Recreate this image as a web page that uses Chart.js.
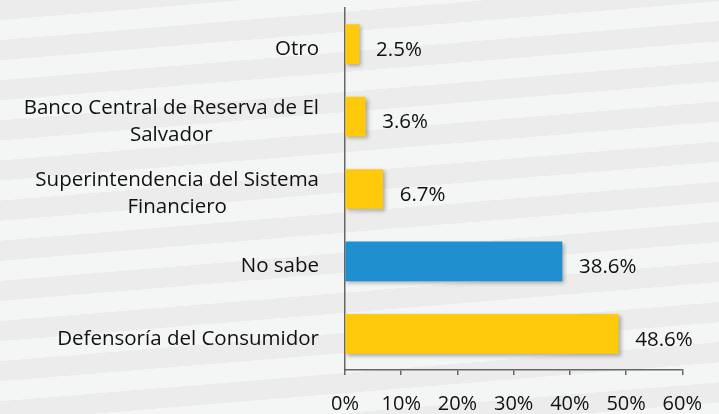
<!DOCTYPE html>
<html>
<head>
<meta charset="utf-8">
<script src="https://cdn.jsdelivr.net/npm/chart.js@4/dist/chart.umd.min.js"></script>
<style>
  html, body { margin: 0; padding: 0; }
  body {
    width: 719px; height: 414px; overflow: hidden;
    background: repeating-linear-gradient(175.3deg, #ececec 0px, #ececec 20px, #f4f5f5 20px, #f4f5f5 40px);
  }
  #wrap { position: relative; width: 719px; height: 414px; }
</style>
</head>
<body>
<div id="wrap"><canvas id="c" width="719" height="414"></canvas></div>
<script>
const categories = [
  ["Otro"],
  ["Banco Central de Reserva de El", "Salvador"],
  ["Superintendencia del Sistema", "Financiero"],
  ["No sabe"],
  ["Defensoría del Consumidor"]
];
const values = [2.5, 3.6, 6.7, 38.6, 48.6];
const barColors = ["#FFC90C", "#FFC90C", "#FFC90C", "#1F8FCF", "#FFC90C"];
const xTicks = [0, 10, 20, 30, 40, 50, 60];

const FONT = "'Open Sans', 'DejaVu Sans', sans-serif";
const FSIZE = 20.5;
const FWEIGHT = 500;
const TEXT = "#111111";

const shadowPlugin = {
  id: 'shadow',
  beforeDatasetsDraw(chart) {
    const ctx = chart.ctx;
    ctx.save();
    ctx.shadowColor = 'rgba(0,0,0,0.30)';
    ctx.shadowBlur = 4;
    ctx.shadowOffsetX = 2;
    ctx.shadowOffsetY = 2;
  },
  afterDatasetsDraw(chart) {
    chart.ctx.restore();
  }
};

const labelsPlugin = {
  id: 'textLabels',
  afterDraw(chart) {
    const ctx = chart.ctx;
    const yScale = chart.scales.y;
    const meta = chart.getDatasetMeta(0);
    ctx.save();
    ctx.font = FWEIGHT + " " + FSIZE + "px " + FONT;
    ctx.fillStyle = TEXT;
    ctx.textBaseline = 'middle';
    ctx.textAlign = 'left';
    meta.data.forEach((bar, i) => {
      ctx.fillText(values[i].toFixed(1) + '%', bar.x + 17, bar.y + 6);
    });
    const rightEdge = chart.chartArea.left - 26;
    const lineH = 27;
    categories.forEach((lines, i) => {
      const yc = yScale.getPixelForValue(i) + 5;
      const w = Math.max(...lines.map(l => ctx.measureText(l).width));
      const cx = rightEdge - w / 2;
      ctx.textAlign = 'center';
      const y0 = yc - (lines.length - 1) * lineH / 2;
      lines.forEach((l, k) => ctx.fillText(l, cx, y0 + k * lineH));
    });
    ctx.restore();
  }
};

new Chart(document.getElementById('c'), {
  type: 'bar',
  data: {
    labels: categories,
    datasets: [{
      data: values,
      backgroundColor: barColors,
      borderWidth: 0,
      barThickness: 39
    }]
  },
  options: {
    indexAxis: 'y',
    responsive: false,
    animation: false,
    events: [],
    layout: { padding: { top: 8, right: 35, left: 0, bottom: 0 } },
    plugins: { legend: { display: false }, tooltip: { enabled: false } },
    scales: {
      y: {
        ticks: { display: false },
        grid: { display: false },
        border: { display: true, color: '#666', width: 1.5 },
        afterFit(s) { s.width = 345; }
      },
      x: {
        min: 0, max: 60,
        afterBuildTicks(s) { s.ticks = xTicks.map(v => ({ value: v })); },
        ticks: {
          callback: v => v + '%',
          font: { family: FONT, size: 20, weight: FWEIGHT },
          color: TEXT,
          padding: 17,
          maxRotation: 0
        },
        grid: { drawOnChartArea: false, drawTicks: true, tickLength: 5, color: '#666', lineWidth: 1.5 },
        border: { display: true, color: '#666', width: 1.5 },
        afterFit(s) { s.height = 44; }
      }
    }
  },
  plugins: [shadowPlugin, labelsPlugin]
});
</script>
</body>
</html>
